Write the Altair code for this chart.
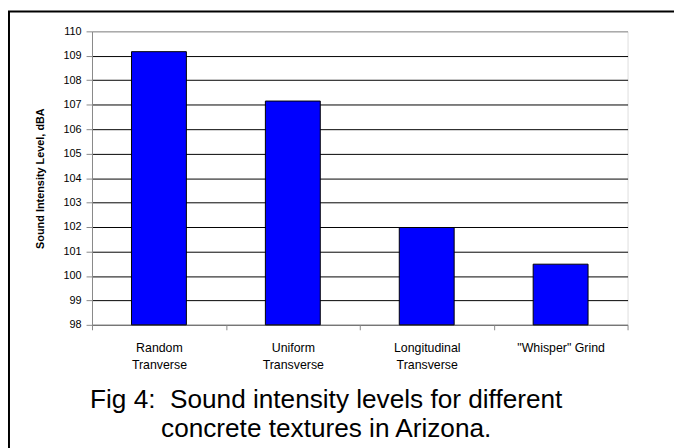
import altair as alt
import pandas as pd

# ---- data ----
categories = ["Random\nTranverse", "Uniform\nTransverse", "Longitudinal\nTransverse", "\"Whisper\" Grind"]
levels = [109.17, 107.15, 101.98, 100.48]
y_ticks = [98, 99, 100, 101, 102, 103, 104, 105, 106, 107, 108, 109, 110]
y_title = "Sound Intensity Level, dBA"
caption = ["Fig 4:\u00a0 Sound intensity levels for different", "concrete textures in Arizona."]

FONT = "Liberation Sans"

df = pd.DataFrame({"texture": categories, "level": levels})

bars = alt.Chart(df).mark_bar(
    color="#0000FF", stroke="#000000", strokeWidth=1, width=alt.RelativeBandSize(0.41)
).encode(
    x=alt.X(
        "texture:N",
        sort=categories,
        scale=alt.Scale(paddingInner=0, paddingOuter=0),
        axis=alt.Axis(
            title=None,
            labelAngle=0,
            labelExpr="split(datum.label, '\\n')",
            labelFontSize=12.5,
            labelLineHeight=17,
            labelPadding=12,
            tickSize=5,
            tickBand="extent",
            grid=False,
        ),
    ),
    y=alt.Y(
        "level:Q",
        scale=alt.Scale(domain=[98, 110], nice=False, zero=False),
        axis=alt.Axis(
            title=y_title,
            values=y_ticks,
            format="d",
            labelFontSize=11,
            labelPadding=5,
            tickSize=6,
            grid=True,
            gridColor=alt.condition("datum.value == 110", alt.value("#888888"), alt.value("#000000")),
            gridWidth=1,
            titleFontSize=11,
            titleFontWeight="bold",
            titlePadding=18,
        ),
    ),
    y2=alt.datum(98),
)

frame = alt.Chart(pd.DataFrame({"f": [0]})).mark_rect(
    fill="transparent", stroke="#000000", strokeWidth=2
).encode(
    x=alt.value(-84), x2=alt.value(800), y=alt.value(-20), y2=alt.value(600)
)

cap = alt.Chart(pd.DataFrame({"f": [0]})).mark_text(
    text=caption,
    font=FONT,
    fontSize=26.5,
    lineHeight=30,
    align="center",
    baseline="alphabetic",
    color="#000000",
).encode(x=alt.value(237), y=alt.value(381))

chart = alt.layer(bars, frame, cap).properties(
    width=542,
    height=297,
    padding={"left": 85, "top": 21, "right": 47, "bottom": 122},
    autosize=alt.AutoSizeParams(type="none"),
).configure_view(
    stroke="#888888", strokeWidth=1
).configure_axis(
    labelFont=FONT, titleFont=FONT, domainColor="#000000", tickColor="#000000",
    labelColor="#000000", titleColor="#000000", domainWidth=1, tickWidth=1
).configure(background="white")

chart.save("out.html", embed_options={"renderer": "svg", "actions": False})
